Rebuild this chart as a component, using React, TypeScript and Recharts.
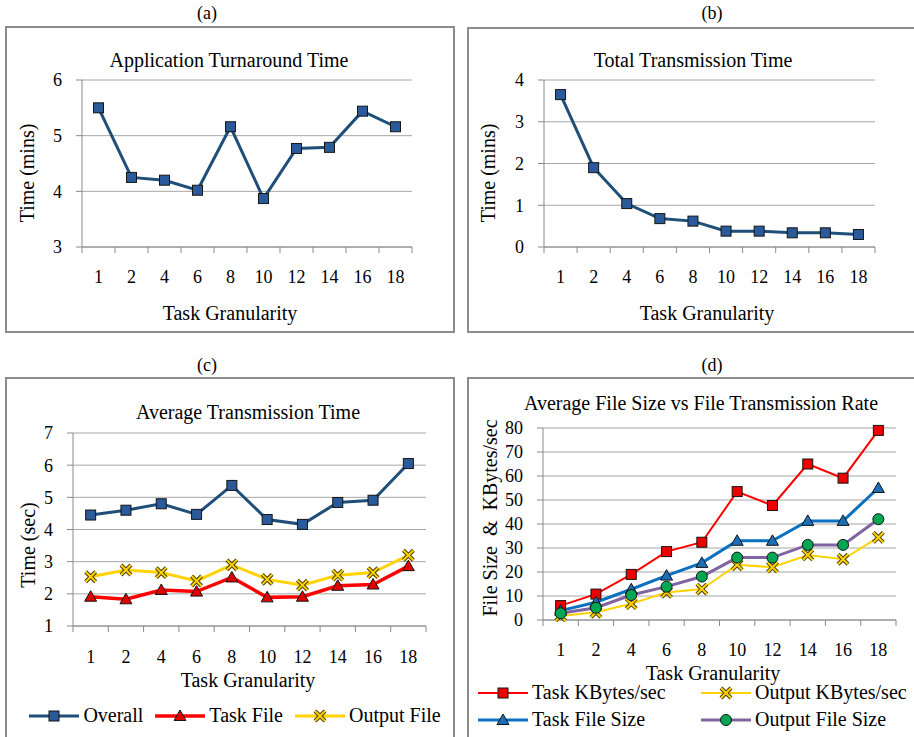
import { LineChart, Line, XAxis, YAxis, CartesianGrid } from 'recharts'

const FONT = "'Liberation Serif', 'Times New Roman', serif"
const AXIS = '#8a8a8a'
const GRID = '#a6a6a6'

// task granularity categories shared by all four panels
const granularity = ['1', '2', '4', '6', '8', '10', '12', '14', '16', '18']

// (a) application turnaround time, mins
const turnaroundMins = [5.5, 4.25, 4.2, 4.02, 5.16, 3.87, 4.77, 4.79, 5.44, 5.16]
// (b) total transmission time, mins
const totalTransmissionMins = [3.65, 1.9, 1.04, 0.68, 0.62, 0.38, 0.38, 0.34, 0.34, 0.3]
// (c) average transmission time, sec
const overallSec = [4.45, 4.6, 4.8, 4.47, 5.37, 4.31, 4.16, 4.84, 4.91, 6.05]
const taskFileSec = [1.91, 1.83, 2.12, 2.07, 2.51, 1.89, 1.91, 2.25, 2.29, 2.86]
const outputFileSec = [2.53, 2.74, 2.66, 2.4, 2.9, 2.45, 2.27, 2.58, 2.66, 3.2]
// (d) average file size vs transmission rate
const taskKBps = [6, 10.8, 19, 28.5, 32.4, 53.5, 47.7, 65, 59.1, 79]
const outputKBps = [1.7, 3.2, 6.8, 11.5, 12.9, 23, 22, 27.1, 25.3, 34.4]
const taskFileSize = [3.9, 7.4, 12.8, 18.5, 23.8, 33, 33, 41.3, 41.3, 55]
const outputFileSize = [2.8, 5.1, 10.4, 13.9, 18.1, 26, 26, 31.3, 31.3, 42]

const rows = granularity.map((g, i) => ({
  g,
  turnaround: turnaroundMins[i],
  total: totalTransmissionMins[i],
  overall: overallSec[i],
  taskFile: taskFileSec[i],
  outputFile: outputFileSec[i],
  taskKBps: taskKBps[i],
  outputKBps: outputKBps[i],
  taskSize: taskFileSize[i],
  outputSize: outputFileSize[i],
}))

type Shape = 'square' | 'triangle' | 'cross' | 'circle'

const drawMarker = (shape: Shape, cx: number, cy: number, fill: string) => {
  if (shape === 'square') {
    return <rect x={cx - 5} y={cy - 5} width={10} height={10} fill={fill} stroke='#151515' strokeWidth={1} />
  }
  if (shape === 'triangle') {
    const pts = `${cx},${cy - 6} ${cx + 6},${cy + 4.5} ${cx - 6},${cy + 4.5}`
    return <polygon points={pts} fill={fill} stroke='#151515' strokeWidth={1} />
  }
  if (shape === 'cross') {
    const d = `M${cx - 5},${cy - 5}L${cx + 5},${cy + 5}M${cx + 5},${cy - 5}L${cx - 5},${cy + 5}`
    return (
      <g>
        <path d={d} stroke='#4a3f00' strokeWidth={4} />
        <path d={d} stroke={fill} strokeWidth={2} />
      </g>
    )
  }
  return <circle cx={cx} cy={cy} r={5.5} fill={fill} stroke='#151515' strokeWidth={1} />
}

const markerDot = (shape: Shape, fill: string) => (props: any) => {
  const { cx, cy, index } = props
  if (cx == null || cy == null) return <g key={`${shape}-${index}`} />
  return <g key={`${shape}-${index}`}>{drawMarker(shape, cx, cy, fill)}</g>
}

// category labels plus Excel style tick marks between categories
const categoryTick = (band: number, gap: number) => (props: any) => {
  const { x, y, payload, index } = props
  return (
    <g key={`t-${index}`}>
      <line x1={x - band / 2} x2={x - band / 2} y1={y} y2={y + 6} stroke={AXIS} />
      {index === granularity.length - 1 && (
        <line x1={x + band / 2} x2={x + band / 2} y1={y} y2={y + 6} stroke={AXIS} />
      )}
      <text x={x} y={y + gap} textAnchor='middle' dominantBaseline='central' fontSize={18} style={{ fontFamily: FONT }} fill='#000'>
        {payload.value}
      </text>
    </g>
  )
}

type SeriesDef = { key: string; color: string; width: number; shape: Shape; marker: string; name: string }

type PanelDef = {
  letter: string
  letterX: number
  letterY: number
  left: number
  top: number
  width: number
  height: number
  plot: { left: number; top: number; right: number; bottom: number }
  domain: [number, number]
  ticks: number[]
  title: string
  titleX: number
  titleY: number
  yLabel: string
  yLabelX: number
  yLabelY: number
  xLabelX: number
  xLabelY: number
  tickGap: number
  series: SeriesDef[]
}

const navy = '#1f4e79'
const navyMarker = '#2a5a99'

const panels: PanelDef[] = [
  {
    letter: '(a)', letterX: 207, letterY: 13,
    left: 5, top: 26, width: 450, height: 307,
    plot: { left: 77, top: 54, right: 407, bottom: 221 },
    domain: [3, 6], ticks: [3, 4, 5, 6],
    title: 'Application Turnaround Time', titleX: 224, titleY: 34,
    yLabel: 'Time (mins)', yLabelX: 22, yLabelY: 147,
    xLabelX: 225, xLabelY: 287, tickGap: 30,
    series: [{ key: 'turnaround', color: navy, width: 3, shape: 'square', marker: navyMarker, name: 'Turnaround' }],
  },
  {
    letter: '(b)', letterX: 712, letterY: 13,
    left: 467, top: 27, width: 449, height: 306,
    plot: { left: 77, top: 53, right: 408, bottom: 220 },
    domain: [0, 4], ticks: [0, 1, 2, 3, 4],
    title: 'Total Transmission Time', titleX: 226, titleY: 33,
    yLabel: 'Time (mins)', yLabelX: 21, yLabelY: 146,
    xLabelX: 240, xLabelY: 286, tickGap: 30,
    series: [{ key: 'total', color: navy, width: 3, shape: 'square', marker: navyMarker, name: 'Total' }],
  },
  {
    letter: '(c)', letterX: 207, letterY: 365,
    left: 5, top: 377, width: 450, height: 364,
    plot: { left: 68, top: 56, right: 421, bottom: 249 },
    domain: [1, 7], ticks: [1, 2, 3, 4, 5, 6, 7],
    title: 'Average Transmission Time', titleX: 243, titleY: 35,
    yLabel: 'Time (sec)', yLabelX: 23, yLabelY: 168,
    xLabelX: 243, xLabelY: 303, tickGap: 31,
    series: [
      { key: 'overall', color: navy, width: 3, shape: 'square', marker: navyMarker, name: 'Overall' },
      { key: 'taskFile', color: '#ff0000', width: 3.5, shape: 'triangle', marker: '#e00000', name: 'Task File' },
      { key: 'outputFile', color: '#ffd200', width: 3, shape: 'cross', marker: '#ffd200', name: 'Output File' },
    ],
  },
  {
    letter: '(d)', letterX: 712, letterY: 365,
    left: 467, top: 377, width: 449, height: 364,
    plot: { left: 76, top: 51, right: 429, bottom: 243 },
    domain: [0, 80], ticks: [0, 10, 20, 30, 40, 50, 60, 70, 80],
    title: 'Average File Size vs File Transmission Rate', titleX: 234, titleY: 26,
    yLabel: 'File Size  &  KBytes/sec', yLabelX: 23, yLabelY: 141,
    xLabelX: 246, xLabelY: 296, tickGap: 30,
    series: [
      { key: 'taskKBps', color: '#ff0000', width: 2, shape: 'square', marker: '#ee0000', name: 'Task KBytes/sec' },
      { key: 'outputKBps', color: '#ffd200', width: 2, shape: 'cross', marker: '#ffd200', name: 'Output KBytes/sec' },
      { key: 'taskSize', color: '#0a70c0', width: 3, shape: 'triangle', marker: '#1a6fb8', name: 'Task File Size' },
      { key: 'outputSize', color: '#8064a2', width: 3, shape: 'circle', marker: '#00a651', name: 'Output File Size' },
    ],
  },
]

const LegendItem = ({ s }: { s: SeriesDef }) => (
  <div style={{ display: 'flex', alignItems: 'center', gap: 4, whiteSpace: 'nowrap' }}>
    <svg width={50} height={16} style={{ flex: 'none' }}>
      <line x1={0} x2={50} y1={8} y2={8} stroke={s.color} strokeWidth={s.width} />
      {drawMarker(s.shape, 25, 8, s.marker)}
    </svg>
    <span>{s.name}</span>
  </div>
)

const Panel = ({ p }: { p: PanelDef }) => {
  const X_AXIS_H = 40
  const margin = {
    top: p.plot.top,
    left: p.plot.left - 50,
    right: p.width - p.plot.right,
    bottom: p.height - p.plot.bottom - X_AXIS_H,
  }
  const band = (p.plot.right - p.plot.left) / granularity.length
  const text = { position: 'absolute' as const, fontFamily: FONT, fontSize: 20, color: '#000', whiteSpace: 'pre' as const }
  return (
    <>
      <div style={{ ...text, fontSize: 18, left: p.letterX, top: p.letterY, transform: 'translate(-50%, -50%)' }}>{p.letter}</div>
      <div style={{ position: 'absolute', left: p.left, top: p.top, width: p.width, height: p.height, boxSizing: 'border-box', border: '2px solid #8c8c8c' }} />
      <div style={{ position: 'absolute', left: p.left, top: p.top, width: p.width, height: p.height }}>
        <LineChart width={p.width} height={p.height} data={rows} margin={margin}>
          <CartesianGrid vertical={false} stroke={GRID} />
          <XAxis
            dataKey='g'
            height={X_AXIS_H}
            interval={0}
            padding={{ left: band / 2, right: band / 2 }}
            tickSize={0}
            tickMargin={0}
            tickLine={false}
            axisLine={{ stroke: AXIS }}
            tick={categoryTick(band, p.tickGap)}
          />
          <YAxis
            width={50}
            domain={p.domain}
            ticks={p.ticks}
            interval={0}
            tickSize={6}
            tickMargin={14}
            axisLine={{ stroke: AXIS }}
            tickLine={{ stroke: AXIS }}
            tick={{ fill: '#000', fontSize: 18, fontFamily: FONT, style: { fontFamily: FONT } }}
          />
          {p.series.map((s) => (
            <Line
              key={s.key}
              type='linear'
              dataKey={s.key}
              name={s.name}
              stroke={s.color}
              strokeWidth={s.width}
              dot={markerDot(s.shape, s.marker)}
              activeDot={false}
              isAnimationActive={false}
            />
          ))}
        </LineChart>
        <div style={{ ...text, left: p.titleX, top: p.titleY, transform: 'translate(-50%, -50%)' }}>{p.title}</div>
        <div style={{ ...text, left: p.yLabelX, top: p.yLabelY, transform: 'translate(-50%, -50%) rotate(-90deg)' }}>{p.yLabel}</div>
        <div style={{ ...text, left: p.xLabelX, top: p.xLabelY, transform: 'translate(-50%, -50%)' }}>Task Granularity</div>
      </div>
    </>
  )
}

const App = () => {
  const [a, b, c, d] = panels
  const legendText = { position: 'absolute' as const, fontFamily: FONT, fontSize: 20, color: '#000' }
  return (
    <div style={{ position: 'absolute', left: 0, top: 0, width: 914, height: 737, background: '#fff', overflow: 'hidden' }}>
      <Panel p={a} />
      <Panel p={b} />
      <Panel p={c} />
      <Panel p={d} />
      {/* legend of (c) */}
      <div style={{ ...legendText, left: 20, top: 704, width: 430, display: 'flex', justifyContent: 'center', gap: 12 }}>
        {c.series.map((s) => <LegendItem key={s.key} s={s} />)}
      </div>
      {/* legend of (d), two by two */}
      <div style={{ ...legendText, left: 478, top: 681, display: 'grid', gridTemplateColumns: '223px 190px', rowGap: 4 }}>
        {d.series.map((s) => <LegendItem key={s.key} s={s} />)}
      </div>
    </div>
  )
}

export default App
